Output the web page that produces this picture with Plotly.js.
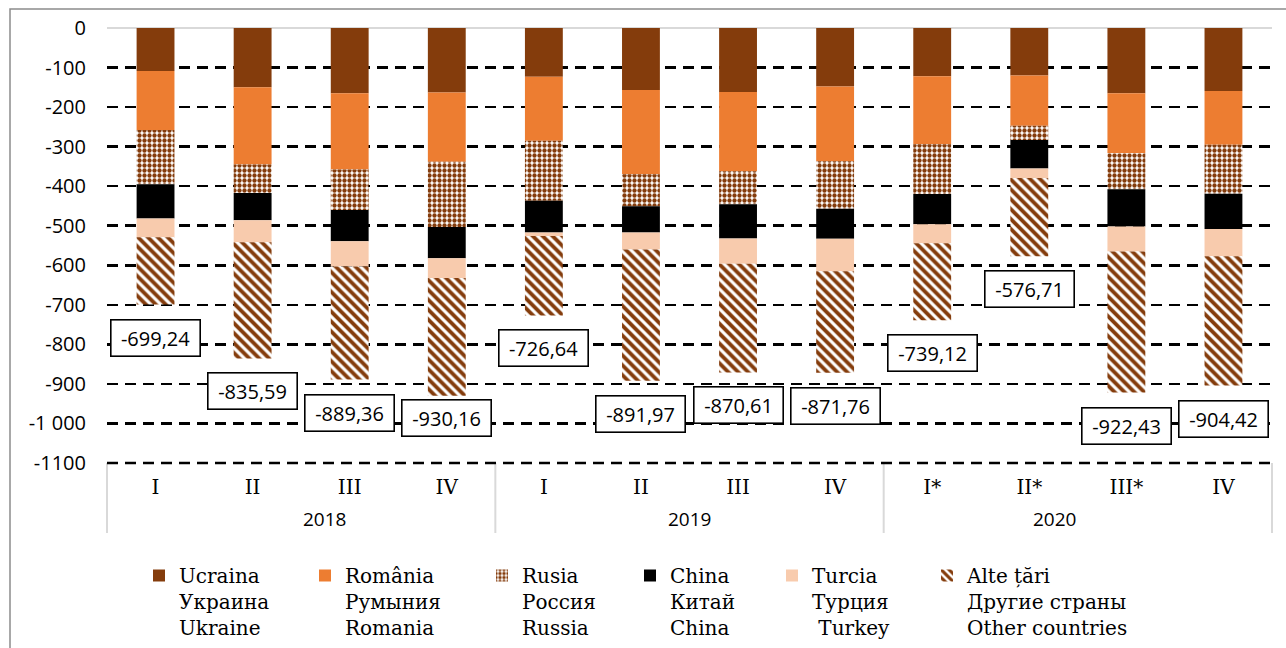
<!DOCTYPE html>
<html>
<head>
<meta charset="utf-8">
<script src="https://cdn.plot.ly/plotly-3.0.1.min.js"></script>
<style>html,body{margin:0;padding:0;background:#fff;}</style>
</head>
<body>
<div id="chart" style="width:1286px;height:648px;"></div>
<script>
// ---- data ----
const years = ['2018','2018','2018','2018','2019','2019','2019','2019','2020','2020','2020','2020'];
const quarters = ['I','II','III','IV','I','II','III','IV','I*','II*','III*','IV'];
const yearLabels = ['2018','2019','2020'];
const ukraine = [-109,-150,-165,-163,-123,-157,-162,-148,-122,-120,-165,-159];
const romania = [-149,-195,-193,-175,-162,-213,-200,-189,-172,-127,-152,-136];
const russia  = [-137,-72,-102,-165,-152,-81,-84,-120,-126,-36,-91,-124];
const china   = [-87,-69,-79,-79,-80,-66,-86,-76,-76,-72,-94,-89];
const turkey  = [-47,-56,-64,-50,-9,-43,-64,-82,-48,-24,-63,-69];
const other   = [-170,-294,-286,-298,-201,-332,-275,-257,-195,-198,-357,-327];
const totals  = [-699.24,-835.59,-889.36,-930.16,-726.64,-891.97,-870.61,-871.76,-739.12,-576.71,-922.43,-904.42];
const yTicks  = [0,-100,-200,-300,-400,-500,-600,-700,-800,-900,-1000,-1100];
const yTickText = ['0','-100','-200','-300','-400','-500','-600','-700','-800','-900','-1 000','-1100'];
const seriesNames = [
  'Ucraina<br>Украина<br>Ukraine',
  'România<br>Румыния<br>Romania',
  'Rusia<br>Россия<br>Russia',
  'China<br>Китай<br>China',
  'Turcia<br>Турция<br> Turkey',
  'Alte țări<br>Другие страны<br>Other countries'
];

// ---- styling ----
const W = 1286, H = 648;
const M = {l:107, r:14, t:28, b:185, autoexpand: false};
const PW = W - M.l - M.r, PH = H - M.t - M.b;
const px = x => (x - M.l) / PW;
const py = y => (H - M.b - y) / PH;
const brown = '#843C0C';
const sans = 'Open Sans, sans-serif';
const serif = 'DejaVu Serif, serif';
const labelShift = [-33,-33,-33,-22,-33,-33,-33,-33,-33,-33,-33,-33];
const legendX = [139, 305, 482, 630, 772, 927];
const legendTop = 556;

const cats = years.map((y, i) => y + ' ' + quarters[i]);
const fmtLabel = v => v.toFixed(2).replace('.', ',');

const series = [ukraine, romania, russia, china, turkey, other];
const markers = [
  {color: brown},
  {color: '#ED7D31'},
  {color: '#ffffff', pattern: {shape: '.', fgcolor: brown, fgopacity: 1, bgcolor: '#ffffff', size: 5, solidity: 0.6, fillmode: 'replace'}},
  {color: '#000000'},
  {color: '#F8CBAD'},
  {color: '#ffffff', pattern: {shape: '\\', fgcolor: brown, fgopacity: 1, bgcolor: '#ffffff', size: 7, solidity: 0.55, fillmode: 'replace'}}
];

const traces = series.map((vals, i) => ({
  type: 'bar',
  x: cats,
  y: vals,
  name: seriesNames[i],
  marker: Object.assign({line: {width: 0}}, markers[i]),
  legend: i === 0 ? 'legend' : 'legend' + (i + 1),
  hoverinfo: 'skip'
}));

const annotations = totals.map((t, i) => ({
  x: cats[i], y: t, xref: 'x', yref: 'y',
  text: fmtLabel(t), showarrow: false,
  yshift: labelShift[i], yanchor: 'middle',
  font: {family: sans, size: 20, color: '#000'},
  bgcolor: '#ffffff', bordercolor: '#000000', borderwidth: 1.6,
  width: 86, height: 33
}));
yearLabels.forEach((yl, k) => {
  annotations.push({
    x: (k + 0.5) / 3, xref: 'paper', y: py(519), yref: 'paper',
    text: yl, showarrow: false, yanchor: 'middle',
    font: {family: sans, size: 19, color: '#000'}
  });
});

const shapes = [0, 1/3, 2/3, 1].map(xv => ({
  type: 'line', xref: 'paper', yref: 'paper',
  x0: xv, x1: xv, y0: 0, y1: py(533),
  line: {color: '#d9d9d9', width: 2}
}));
// bottom gridline at the range edge (-1100)
shapes.push({
  type: 'line', xref: 'paper', yref: 'paper',
  x0: 0, x1: 1, y0: 0, y1: 0,
  line: {color: '#000000', width: 2.5, dash: '11px,7px'}
});
shapes.push({
  type: 'rect', xref: 'paper', yref: 'paper',
  x0: px(10), x1: px(1300), y0: py(9), y1: py(700),
  line: {color: '#8c8c8c', width: 1.5}, fillcolor: 'rgba(0,0,0,0)', layer: 'below'
});

const layout = {
  width: W, height: H, margin: M,
  paper_bgcolor: '#ffffff', plot_bgcolor: '#ffffff',
  barmode: 'relative', bargap: 0.61,
  showlegend: true,
  xaxis: {
    type: 'category', tickvals: cats, ticktext: quarters,
    tickfont: {family: serif, size: 20, color: '#000'},
    showgrid: false, zeroline: false, showline: false, ticks: '',
    ticklabelstandoff: 10, fixedrange: true
  },
  yaxis: {
    range: [-1100, 0], tickvals: yTicks, ticktext: yTickText,
    tickfont: {family: sans, size: 20, color: '#000'},
    showgrid: true, gridcolor: '#000000', gridwidth: 2.5, griddash: '11px,7px',
    zeroline: true, zerolinecolor: '#d9d9d9', zerolinewidth: 2,
    showline: false, ticks: '', ticklabelstandoff: 20, fixedrange: true
  },
  annotations: annotations,
  shapes: shapes
};
legendX.forEach((lx, i) => {
  const key = i === 0 ? 'legend' : 'legend' + (i + 1);
  layout[key] = {
    x: px(lx), y: py(legendTop), xref: 'paper', yref: 'paper',
    xanchor: 'left', yanchor: 'top', valign: 'top',
    orientation: 'v', bgcolor: 'rgba(0,0,0,0)', borderwidth: 0,
    font: {family: serif, size: 20, color: '#000'}
  };
});

Plotly.newPlot('chart', traces, layout, {displayModeBar: false, staticPlot: true});
</script>
</body>
</html>
